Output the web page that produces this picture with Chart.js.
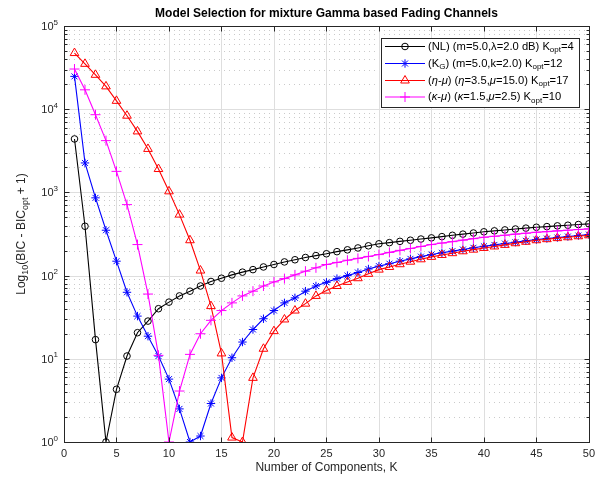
<!DOCTYPE html>
<html>
<head>
<meta charset="utf-8">
<script src="https://cdn.jsdelivr.net/npm/chart.js@4.4.0/dist/chart.umd.min.js"></script>
<style>
html,body{margin:0;padding:0;background:#fff;}
#wrap{width:600px;height:477px;}
</style>
</head>
<body>
<div id="wrap"><canvas id="c" width="600" height="477"></canvas></div>
<script>
// ---- data ----
const components = Array.from({length: 50}, (_, i) => i + 1);

const seriesNL = [4390, 392, 17, 1, 4.3, 10.8, 20.6, 28.4, 40, 48,
  57, 65, 75, 85, 93, 102, 110, 118, 127, 136,
  146, 155, 165, 174, 183, 194, 204, 215, 228, 241,
  249, 258, 266, 275, 284, 294, 305, 315, 325, 336,
  345, 354, 363, 372, 381, 388, 396, 403, 411, 419];

const seriesKG = [24800, 2260, 860, 351, 149, 63, 32.6, 18.7, 10.8, 5.7,
  2.5, 1, 1.18, 2.9, 5.9, 10.3, 15.9, 22.5, 30.3, 38,
  47, 54, 65, 75, 83, 92, 100, 109, 120, 130,
  139, 149, 159, 169, 179, 188, 197, 206, 216, 225,
  234, 243, 252, 262, 271, 279, 287, 295, 303, 311];

const seriesEtaMu = [47300, 35100, 25900, 18800, 12600, 8350, 5410, 3330, 1910, 1030,
  541, 266, 115, 43, 11.6, 1.13, 1, 5.9, 13.2, 21.5,
  29.7, 38, 46, 57, 66, 75, 84, 93, 105, 118,
  127, 137, 147, 157, 168, 177, 186, 196, 205, 215,
  224, 234, 245, 255, 266, 274, 282, 289, 297, 305];

const seriesKappaMu = [30400, 17100, 8590, 4190, 1790, 713, 236, 60, 11, 1,
  4.1, 11.3, 20, 29, 38, 47, 57, 65, 75, 84,
  92, 102, 113, 124, 136, 144, 153, 161, 170, 179,
  190, 201, 212, 224, 236, 246, 256, 267, 278, 289,
  297, 306, 315, 323, 332, 338, 345, 351, 358, 364];

const xTicks = [0, 5, 10, 15, 20, 25, 30, 35, 40, 45, 50];
const yTicks = [1, 10, 100, 1000, 10000, 100000];
const yTickExponents = ['0', '1', '2', '3', '4', '5'];

const titleText = 'Model Selection for mixture Gamma based Fading Channels';
const xTitle = 'Number of Components, K';
// rich-text segments: [text, style] where style: 0 normal, 1 subscript, 2 italic, 3 superscript
const yTitle = [['Log', 0], ['10', 1], ['(BIC - BIC', 0], ['opt', 1], [' + 1)', 0]];
const legendLabels = [
  [['(NL) (m=5.0,\u03BB=2.0 dB) K', 0], ['opt', 1], ['=4', 0]],
  [['(K', 0], ['G', 1], [') (m=5.0,k=2.0) K', 0], ['opt', 1], ['=12', 0]],
  [['(', 0], ['\u03B7', 2], ['-', 0], ['\u03BC', 2], [') (', 0], ['\u03B7', 2], ['=3.5,', 0], ['\u03BC', 2], ['=15.0) K', 0], ['opt', 1], ['=17', 0]],
  [['(', 0], ['\u03BA', 2], ['-', 0], ['\u03BC', 2], [') (', 0], ['\u03BA', 2], ['=1.5,', 0], ['\u03BC', 2], ['=2.5) K', 0], ['opt', 1], ['=10', 0]]
];

// ---- styling ----
const FONT = '"Liberation Sans", Arial, Helvetica, sans-serif';
const AXIS_COLOR = '#262626';
const styles = [
  {color: '#000000', point: 'circle', radius: 3.3},
  {color: '#0000ff', point: 'star', radius: 4.2},
  {color: '#ff0000', point: 'triangle', radius: 5},
  {color: '#ff00ff', point: 'cross', radius: 5}
];
const allSeries = [seriesNL, seriesKG, seriesEtaMu, seriesKappaMu];

const datasets = allSeries.map((s, i) => ({
  label: 'series' + i,
  data: components.map((k, j) => ({x: k, y: s[j]})),
  borderColor: styles[i].color,
  backgroundColor: 'rgba(0,0,0,0)',
  pointBorderColor: styles[i].color,
  pointBackgroundColor: 'rgba(0,0,0,0)',
  pointStyle: styles[i].point,
  pointRadius: styles[i].radius,
  pointBorderWidth: 1,
  borderWidth: 1.1,
  tension: 0,
  order: 4 - i
}));

function segFont(st, size) {
  const fs = (st === 1 || st === 3) ? Math.round(size * 0.72) : size;
  return (st === 2 ? 'italic ' : '') + fs + 'px ' + FONT;
}
function drawRich(ctx, x, y, segs, size) {
  for (const [t, st] of segs) {
    ctx.font = segFont(st, size);
    const dy = st === 1 ? size * 0.32 : (st === 3 ? -size * 0.42 : 0);
    ctx.fillText(t, x, y + dy);
    x += ctx.measureText(t).width;
  }
  return x;
}
function richWidth(ctx, segs, size) {
  let w = 0;
  for (const [t, st] of segs) {
    ctx.font = segFont(st, size);
    w += ctx.measureText(t).width;
  }
  return w;
}
function drawMarker(ctx, type, x, y, r, color) {
  ctx.save();
  ctx.strokeStyle = color; ctx.lineWidth = 1;
  ctx.beginPath();
  if (type === 'circle') {
    ctx.arc(x, y, r, 0, Math.PI * 2);
  } else if (type === 'triangle') {
    const e = r * 3 / Math.sqrt(3), h = e * Math.sqrt(3) / 2;
    ctx.moveTo(x - e / 2, y + h / 3);
    ctx.lineTo(x + e / 2, y + h / 3);
    ctx.lineTo(x, y - 2 * h / 3);
    ctx.closePath();
  } else if (type === 'cross') {
    ctx.moveTo(x - r, y); ctx.lineTo(x + r, y);
    ctx.moveTo(x, y - r); ctx.lineTo(x, y + r);
  } else if (type === 'star') {
    for (let a = 0; a < 4; a++) {
      const ang = a * Math.PI / 4;
      ctx.moveTo(x - r * Math.cos(ang), y - r * Math.sin(ang));
      ctx.lineTo(x + r * Math.cos(ang), y + r * Math.sin(ang));
    }
  }
  ctx.stroke();
  ctx.restore();
}

const matlabPlugin = {
  id: 'matlabLook',
  beforeDatasetsDraw(chart) {
    const {ctx, chartArea: {left, right, top, bottom}, scales: {x, y}} = chart;
    ctx.save();
    ctx.lineWidth = 1;
    // minor dotted horizontal grid
    ctx.strokeStyle = 'rgba(150,150,150,0.5)';
    ctx.setLineDash([1, 4]);
    for (let d = 0; d < 5; d++) {
      for (let m = 2; m <= 9; m++) {
        const py = Math.round(y.getPixelForValue(m * Math.pow(10, d))) + 0.5;
        ctx.beginPath(); ctx.moveTo(left, py); ctx.lineTo(right, py); ctx.stroke();
      }
    }
    ctx.setLineDash([]);
    // major grid
    ctx.strokeStyle = '#dedede';
    for (const v of xTicks) {
      const px = Math.round(x.getPixelForValue(v)) + 0.5;
      ctx.beginPath(); ctx.moveTo(px, top); ctx.lineTo(px, bottom); ctx.stroke();
    }
    for (const v of yTicks) {
      const py = Math.round(y.getPixelForValue(v)) + 0.5;
      ctx.beginPath(); ctx.moveTo(left, py); ctx.lineTo(right, py); ctx.stroke();
    }
    ctx.restore();
  },
  afterDatasetsDraw(chart) {
    const {ctx, chartArea: {left, right, top, bottom}, scales: {x, y}} = chart;
    ctx.save();
    ctx.strokeStyle = AXIS_COLOR;
    ctx.lineWidth = 1;
    const L = Math.round(left) + 0.5, R = Math.round(right) + 0.5;
    const T = Math.round(top) + 0.5, B = Math.round(bottom) + 0.5;
    ctx.beginPath();
    for (const v of xTicks) {
      const px = Math.round(x.getPixelForValue(v)) + 0.5;
      ctx.moveTo(px, B); ctx.lineTo(px, B - 5);
      ctx.moveTo(px, T); ctx.lineTo(px, T + 5);
    }
    for (let d = 0; d <= 5; d++) {
      for (let m = 1; m <= 9; m++) {
        const v = m * Math.pow(10, d);
        if (v > 100000) break;
        const py = Math.round(y.getPixelForValue(v)) + 0.5;
        const len = m === 1 ? 5 : 3;
        ctx.moveTo(L, py); ctx.lineTo(L + len, py);
        ctx.moveTo(R, py); ctx.lineTo(R - len, py);
      }
    }
    ctx.stroke();
    ctx.strokeRect(L, T, R - L, B - T);
    ctx.restore();
  },
  afterDraw(chart) {
    const {ctx, chartArea: {left, right, top, bottom}, scales: {y}} = chart;
    const cx = (left + right) / 2;
    ctx.save();
    // y tick labels with superscript exponents
    ctx.fillStyle = AXIS_COLOR;
    ctx.textAlign = 'left';
    ctx.textBaseline = 'middle';
    yTicks.forEach((v, i) => {
      const segs = [['10', 0], [yTickExponents[i], 3]];
      const w = richWidth(ctx, segs, 11);
      drawRich(ctx, left - 6 - w, y.getPixelForValue(v) + 1, segs, 11);
    });
    // title
    ctx.fillStyle = '#000';
    ctx.font = 'bold 12px ' + FONT;
    ctx.textAlign = 'center';
    ctx.fillText(titleText, cx, 14);
    // x title
    ctx.fillStyle = AXIS_COLOR;
    ctx.font = '12px ' + FONT;
    ctx.fillText(xTitle, cx, 468);
    // y title (rotated)
    ctx.save();
    ctx.translate(22, (top + bottom) / 2);
    ctx.rotate(-Math.PI / 2);
    ctx.textAlign = 'left';
    const yw = richWidth(ctx, yTitle, 12);
    drawRich(ctx, -yw / 2, 0, yTitle, 12);
    ctx.restore();
    // legend
    const bx = 381.5, by = 38.5, bw = 198, bh = 69;
    ctx.fillStyle = '#ffffff';
    ctx.fillRect(bx, by, bw, bh);
    ctx.strokeStyle = '#262626';
    ctx.lineWidth = 1;
    ctx.strokeRect(bx, by, bw, bh);
    const rows = [46.5, 63.5, 80.5, 97];
    ctx.textAlign = 'left';
    ctx.textBaseline = 'middle';
    for (let i = 0; i < 4; i++) {
      const yy = rows[i];
      ctx.strokeStyle = styles[i].color;
      ctx.lineWidth = 1.1;
      ctx.beginPath(); ctx.moveTo(385, yy); ctx.lineTo(425, yy); ctx.stroke();
      drawMarker(ctx, styles[i].point, 405, yy, styles[i].radius, styles[i].color);
      ctx.fillStyle = '#000';
      drawRich(ctx, 428, yy, legendLabels[i], 11.2);
    }
    ctx.restore();
  }
};

new Chart(document.getElementById('c'), {
  type: 'line',
  data: {datasets},
  options: {
    responsive: false,
    animation: false,
    devicePixelRatio: 1,
    layout: {padding: {top: 26, right: 8, left: 0, bottom: 0}},
    plugins: {legend: {display: false}, title: {display: false}, tooltip: {enabled: false}},
    scales: {
      x: {
        type: 'linear', min: 0, max: 50,
        grid: {display: false, drawTicks: false},
        border: {display: false},
        afterBuildTicks: (s) => { s.ticks = xTicks.map(v => ({value: v})); },
        afterFit: (s) => { s.height = 35; },
        ticks: {color: AXIS_COLOR, font: {family: FONT, size: 11}, padding: 5, maxRotation: 0, autoSkip: false}
      },
      y: {
        type: 'logarithmic', min: 1, max: 100000,
        grid: {display: false, drawTicks: false},
        border: {display: false},
        afterBuildTicks: (s) => { s.ticks = yTicks.map(v => ({value: v})); },
        afterFit: (s) => { s.width = 64; },
        ticks: {display: false}
      }
    }
  },
  plugins: [matlabPlugin]
});
</script>
</body>
</html>
